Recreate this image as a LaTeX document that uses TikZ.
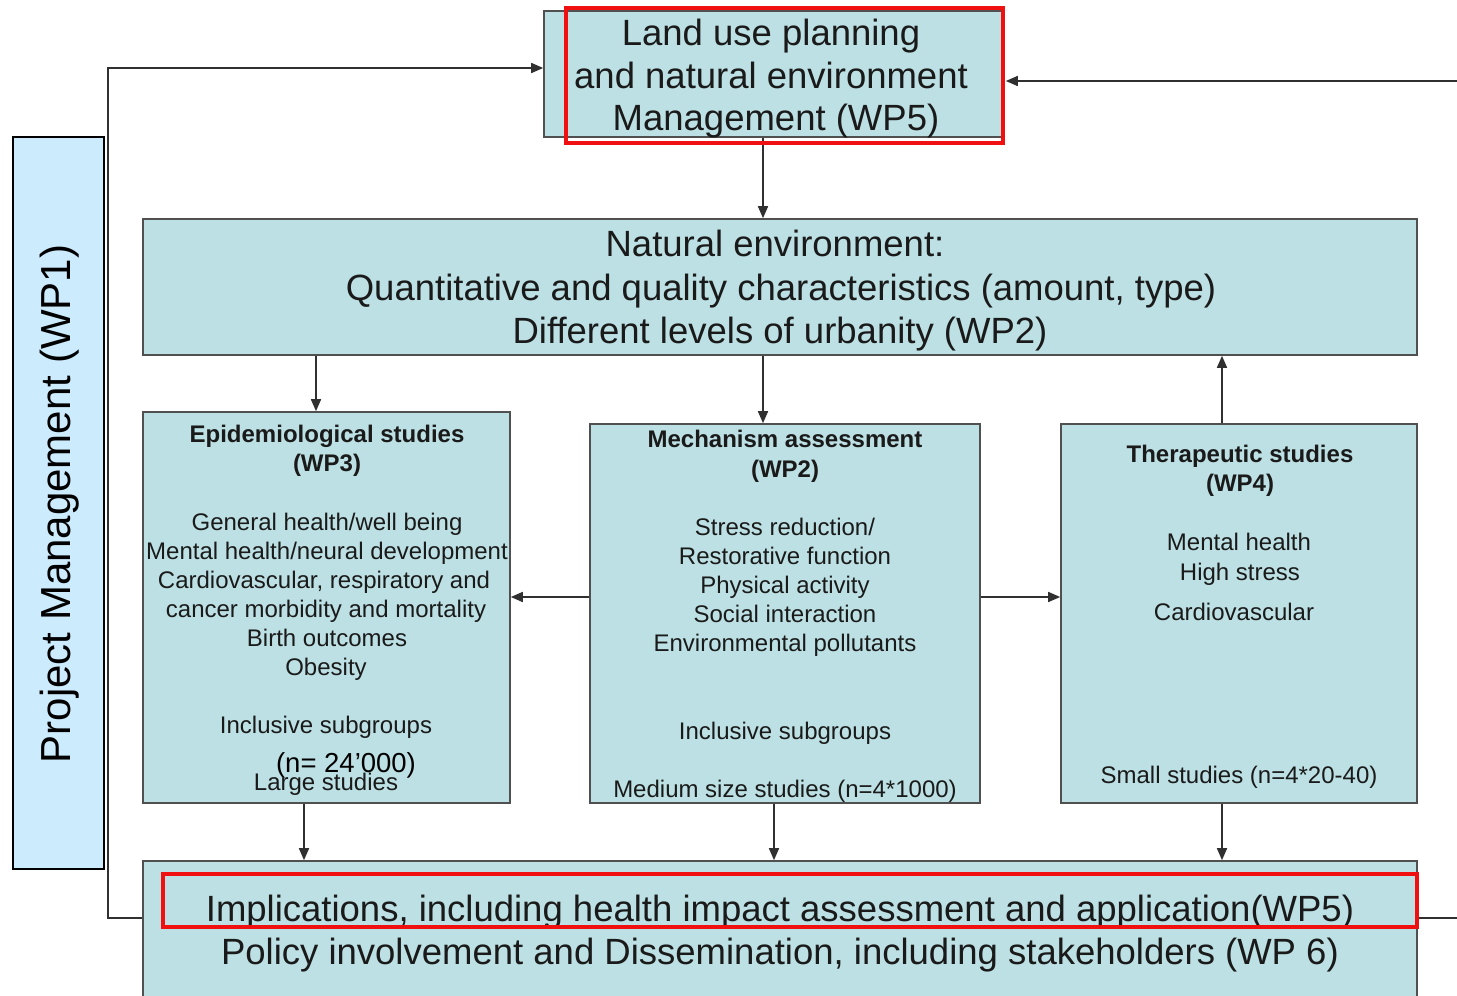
\documentclass[tikz,border=0pt]{standalone}
\usepackage{fontspec}
\setmainfont{Liberation Sans}
\usetikzlibrary{arrows.meta,calc}
\definecolor{boxfill}{HTML}{BCE0E3}
\definecolor{pmfill}{HTML}{CCEBFC}
\definecolor{boxline}{HTML}{505050}
\definecolor{linec}{HTML}{303030}
\definecolor{textc}{HTML}{1A1A1A}
\definecolor{hilite}{HTML}{F01010}
\tikzset{
  box/.style={draw=boxline, fill=boxfill, line width=1.6pt, inner sep=0pt},
  pmbox/.style={draw=black, fill=pmfill, line width=1.6pt, inner sep=0pt},
  conn/.style={draw=linec, line width=1.6pt},
  arr/.style={conn, -{Triangle[length=12pt,width=10pt]}},
  redbox/.style={draw=hilite, line width=4.5pt},
  big/.style={inner sep=0pt, anchor=base, text=textc, font=\fontsize{36.5}{43}\selectfont},
  sm/.style={inner sep=0pt, anchor=base, text=textc, font=\fontsize{24}{28}\selectfont},
  smb/.style={inner sep=0pt, anchor=base, text=textc, font=\fontsize{24}{28}\selectfont\bfseries},
  mid/.style={inner sep=0pt, anchor=base, text=black, font=\fontsize{27.5}{32}\selectfont},
  pmtext/.style={inner sep=0pt, anchor=base, rotate=90, text=black, font=\fontsize{42}{48}\selectfont}
}
\begin{document}
\begin{tikzpicture}[x=1pt,y=-1pt]
\useasboundingbox[fill=white] (0,0) rectangle (1457,996);

% boxes
\node[box, minimum width=459pt, minimum height=126pt] (top) at (773.5,74) {};
\node[pmbox, minimum width=91pt, minimum height=732pt] (pm) at (58.5,503) {};
\node[box, minimum width=1274pt, minimum height=136pt] (ne) at (780,287) {};
\node[box, minimum width=367pt, minimum height=391pt] (epi) at (326.5,607.5) {};
\node[box, minimum width=390pt, minimum height=379pt] (mech) at (785,613.5) {};
\node[box, minimum width=356pt, minimum height=379pt] (ther) at (1239,613.5) {};
\node[box, minimum width=1274pt, minimum height=149pt] (bot) at (780,935.5) {};

% helper coordinates
\coordinate (c763) at (763,0);
\coordinate (c316) at (316,0);
\coordinate (c1222) at (1222,0);
\coordinate (c304) at (304,0);
\coordinate (c774) at (774,0);
\coordinate (y597) at (0,597);
\coordinate (lp) at (108,68);
\coordinate (yb) at (0,918);
\coordinate (rtop) at (1457,81);
\coordinate (rbot) at (1457,918);

% connectors
\draw[arr] (top.south -| c763) -- (ne.north -| c763);
\draw[arr] (bot.west |- yb) -| (lp) -- (top.west |- lp);
\draw[arr] (rtop) -- ([xshift=2pt]top.east |- rtop);
\draw[conn] (bot.east |- rbot) -- (rbot);
\draw[arr] (ne.south -| c316) -- (epi.north -| c316);
\draw[arr] (ne.south -| c763) -- (mech.north -| c763);
\draw[arr] (ther.north -| c1222) -- (ne.south -| c1222);
\draw[arr] (mech.west |- y597) -- (epi.east |- y597);
\draw[arr] (mech.east |- y597) -- (ther.west |- y597);
\draw[arr] (epi.south -| c304) -- (bot.north -| c304);
\draw[arr] (mech.south -| c774) -- (bot.north -| c774);
\draw[arr] (ther.south -| c1222) -- (bot.north -| c1222);

% top box text
\node[big] (t1) at (771,45) {Land use planning};
\node[big] (t2) at (771,88) {and natural environment};
\node[big] (t3) at (776,130) {Management (WP5)};

% project management
\node[pmtext] (pmt) at (70,504) {Project Management (WP1)};

% natural environment text
\node[big] (n1) at (775,256) {Natural environment:};
\node[big] (n2) at (781,300) {Quantitative and quality characteristics (amount, type)};
\node[big] (n3) at (780,343) {Different levels of urbanity (WP2)};

% epidemiological
\node[smb] (e0) at (327,442) {Epidemiological studies};
\node[smb] (e0b) at (327,471) {(WP3)};
\node[sm] (e1) at (327,530) {General health/well being};
\node[sm] (e2) at (327,559) {Mental health/neural development};
\node[sm] (e3) at (324,588) {Cardiovascular, respiratory and};
\node[sm] (e4) at (326,617) {cancer morbidity and mortality};
\node[sm] (e5) at (327,646) {Birth outcomes};
\node[sm] (e6) at (326,675) {Obesity};
\node[sm] (e7) at (326,733) {Inclusive subgroups};
\node[sm] (e9) at (326,790) {Large studies};
\node[mid] (e8) at (346,772) {(n= 24’000)};

% mechanism
\node[smb] (m0) at (785,447) {Mechanism assessment};
\node[smb] (m0b) at (785,477) {(WP2)};
\node[sm] (m1) at (785,535) {Stress reduction/};
\node[sm] (m2) at (785,564) {Restorative function};
\node[sm] (m3) at (785,593) {Physical activity};
\node[sm] (m4) at (785,622) {Social interaction};
\node[sm] (m5) at (785,651) {Environmental pollutants};
\node[sm] (m6) at (785,739) {Inclusive subgroups};
\node[sm] (m7) at (785,797) {Medium size studies (n=4*1000)};

% therapeutic
\node[smb] (h0) at (1240,462) {Therapeutic studies};
\node[smb] (h0b) at (1240,491) {(WP4)};
\node[sm] (h1) at (1239,550) {Mental health};
\node[sm] (h2) at (1240,580) {High stress};
\node[sm] (h3) at (1234,620) {Cardiovascular};
\node[sm] (h4) at (1239,783) {Small studies (n=4*20-40)};

% bottom text
\node[big] (b1) at (780,921) {Implications, including health impact assessment and application(WP5)};
\node[big] (b2) at (780,964) {Policy involvement and Dissemination, including stakeholders (WP 6)};

% highlight frames
\draw[redbox] (566,8) rectangle (1003,143);
\draw[redbox] (163,874) rectangle (1417,927);
\end{tikzpicture}
\end{document}
